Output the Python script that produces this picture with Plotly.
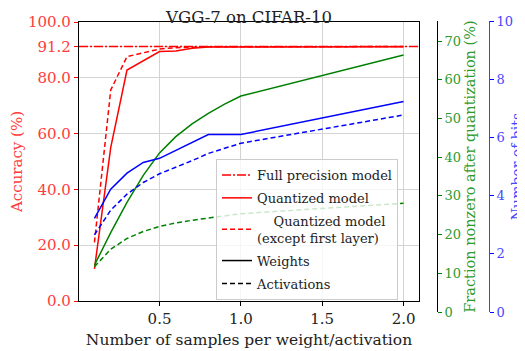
import plotly.graph_objects as go

samples = [0.1, 0.2, 0.3, 0.4, 0.5, 0.6, 0.7, 0.8, 0.9, 1.0, 2.0]
full_precision_acc = 91.2
acc_quant = [11.5, 55.0, 82.8, 86.1, 89.4, 89.6, 90.6, 91.0, 91.0, 91.0, 91.1]
acc_quant_except_first = [21.0, 75.6, 87.6, 89.0, 90.3, 90.8, 91.0, 91.1, 91.1, 91.1, 91.2]
nonzero_weights = [12.1, 20.5, 28.3, 35.3, 41.1, 45.3, 48.6, 51.3, 53.7, 55.8, 66.4]
nonzero_acts = [11.7, 16.2, 19.0, 20.8, 22.1, 23.0, 23.7, 24.3, 24.9, 25.4, 28.1]
bits_weights = [3.22, 4.22, 4.77, 5.14, 5.28, 5.55, 5.82, 6.1, 6.1, 6.1, 7.23]
bits_acts = [2.65, 3.5, 4.05, 4.45, 4.75, 4.97, 5.2, 5.45, 5.62, 5.8, 6.77]

acc_ticks = [0.0, 20.0, 40.0, 60.0, 80.0, 91.2, 100.0]
acc_ticklabels = ["0.0", "20.0", "40.0", "60.0", "80.0", "91.2", "100.0"]
x_ticks = [0.5, 1.0, 1.5, 2.0]
x_ticklabels = ["0.5", "1.0", "1.5", "2.0"]
nz_ticks = [0, 10, 20, 30, 40, 50, 60, 70]
bit_ticks = [0, 2, 4, 6, 8, 10]

x_range = [0.005, 2.095]
FONT = "DejaVu Serif"
RED = "#ff0000"
GREEN = "#008000"
BLUE = "#0000ff"
RED_TXT = "#ff3b3b"
GREEN_TXT = "#2e9a2e"
BLUE_TXT = "#4646ff"
LW = 1.5
DASH = "5px,3px"

fig = go.Figure()

fig.add_trace(go.Scatter(x=samples, y=nonzero_weights, mode="lines", xaxis="x2", yaxis="y2",
                         line=dict(color=GREEN, width=LW), showlegend=False))
fig.add_trace(go.Scatter(x=samples, y=nonzero_acts, mode="lines", xaxis="x2", yaxis="y2",
                         line=dict(color=GREEN, width=LW, dash=DASH), showlegend=False))
fig.add_trace(go.Scatter(x=samples, y=bits_weights, mode="lines", xaxis="x2", yaxis="y3",
                         line=dict(color=BLUE, width=LW), showlegend=False))
fig.add_trace(go.Scatter(x=samples, y=bits_acts, mode="lines", xaxis="x2", yaxis="y3",
                         line=dict(color=BLUE, width=LW, dash=DASH), showlegend=False))

fig.add_trace(go.Scatter(x=x_range, y=[full_precision_acc, full_precision_acc], mode="lines",
                         line=dict(color=RED, width=LW, dash="9px,2px,2px,2px"),
                         name="Full precision model", legendgroup="g1"))
fig.add_trace(go.Scatter(x=samples, y=acc_quant, mode="lines",
                         line=dict(color=RED, width=LW), name="Quantized model", legendgroup="g2"))
fig.add_trace(go.Scatter(x=samples, y=acc_quant_except_first, mode="lines",
                         line=dict(color=RED, width=LW, dash=DASH), legendgroup="g3",
                         name="\u00a0\u00a0\u00a0\u00a0Quantized model<br>(except first layer)"))
fig.add_trace(go.Scatter(x=[None], y=[None], mode="lines", legendgroup="g4",
                         line=dict(color="black", width=LW), name="Weights"))
fig.add_trace(go.Scatter(x=[None], y=[None], mode="lines", legendgroup="g5",
                         line=dict(color="black", width=LW, dash=DASH), name="Activations"))

OFF = 8  # page body margin of the html page
L = 79 - OFF
TOP = 21 - OFF
BOT = 312 - OFF
W = 525 - L
main_bottom = (312 - 301) / 291
main_top = (312 - 22) / 291
x_dom_right = (419 - 79) / W

fig.update_layout(
    width=525, height=351,
    margin=dict(l=L, r=0, t=TOP, b=351 - BOT, autoexpand=False),
    paper_bgcolor="white", plot_bgcolor="rgba(0,0,0,0)",
    font=dict(family=FONT, size=15, color="#222"),
    title=dict(text="VGG-7 on CIFAR-10", x=(249 - OFF) / 525, xanchor="center",
               y=1 - (17 - OFF) / 351, yanchor="middle", font=dict(family=FONT, size=16.5, color="#222")),
    xaxis=dict(domain=[0, x_dom_right], range=x_range, anchor="y", tickvals=x_ticks, ticktext=x_ticklabels,
               showgrid=True, gridcolor="#d3d3d3", gridwidth=1, zeroline=False,
               showline=True, linecolor="black", linewidth=1.2, mirror=True,
               ticks="outside", ticklen=4, tickcolor="black", automargin=False,
               tickfont=dict(family=FONT, size=15, color="#222"),
               title=dict(text="Number of samples per weight/activation",
                          font=dict(family=FONT, size=15.5, color="#222"), standoff=7)),
    yaxis=dict(domain=[main_bottom, main_top], range=[0, 100], anchor="x",
               tickvals=acc_ticks, ticktext=acc_ticklabels,
               showgrid=True, gridcolor="#d3d3d3", gridwidth=1, zeroline=False,
               showline=True, linecolor="black", linewidth=1.2, mirror=True,
               ticks="outside", ticklen=4, tickcolor=RED, automargin=False,
               tickfont=dict(family=FONT, size=15, color=RED_TXT),
               title=dict(text="Accuracy (%)", font=dict(family=FONT, size=15, color=RED_TXT), standoff=8)),
    xaxis2=dict(domain=[0, x_dom_right], range=x_range, anchor="y2", visible=False),
    yaxis2=dict(domain=[0, 1], range=[0, 291 / 3.871], anchor="free", position=(437 - 79) / W,
                side="right", tickvals=nz_ticks, showgrid=False, zeroline=False,
                showline=True, linecolor="black", linewidth=1, automargin=False,
                ticks="outside", ticklen=4, tickcolor=GREEN,
                tickfont=dict(family=FONT, size=13, color=GREEN_TXT),
                title=dict(text="Fraction nonzero after quantization (%)",
                           font=dict(family=FONT, size=14.5, color=GREEN_TXT), standoff=4)),
    yaxis3=dict(domain=[0, 1], range=[0, 10], anchor="free", overlaying="y2", position=(489 - 79) / W,
                side="right", tickvals=bit_ticks, showgrid=False, zeroline=False,
                showline=True, linecolor="#555", linewidth=1, automargin=False,
                ticks="outside", ticklen=4, tickcolor=BLUE,
                tickfont=dict(family=FONT, size=13, color=BLUE_TXT),
                title=dict(text="Number of bits", font=dict(family=FONT, size=14, color=BLUE_TXT), standoff=0)),
    legend=dict(x=(216 - 79) / W, y=(312 - 159) / 291, xanchor="left", yanchor="top",
                bgcolor="rgba(255,255,255,0.8)", bordercolor="#cccccc", borderwidth=1,
                font=dict(family=FONT, size=13, color="#222"), tracegroupgap=3, itemwidth=30),
    showlegend=True,
)

fig.write_html("out.html")
